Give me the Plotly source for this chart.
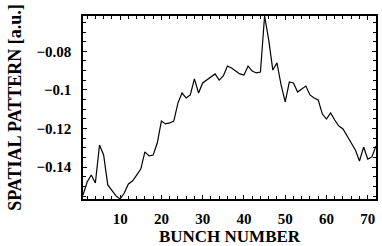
import plotly.graph_objects as go

bunch = list(range(1, 73))
pattern = [
    -0.1544, -0.1477, -0.1441, -0.1482, -0.1285, -0.1337, -0.1492, -0.1518, -0.1549, -0.1565,
    -0.1534, -0.1487, -0.1472, -0.1441, -0.1410, -0.1321, -0.1342, -0.1337, -0.1275, -0.1161,
    -0.1176, -0.1171, -0.1161, -0.1068, -0.1016, -0.1042, -0.1026, -0.0943, -0.1016, -0.0964,
    -0.0949, -0.0933, -0.0917, -0.0949, -0.0928, -0.0876, -0.0886, -0.0902, -0.0917, -0.0923,
    -0.0876, -0.0902, -0.0912, -0.0907, -0.0617, -0.0741, -0.0897, -0.0860, -0.0974, -0.1062,
    -0.0959, -0.0964, -0.1011, -0.0995, -0.0980, -0.1026, -0.1042, -0.1052, -0.1125, -0.1151,
    -0.1119, -0.1156, -0.1187, -0.1202, -0.1239, -0.1270, -0.1311, -0.1368, -0.1296, -0.1358,
    -0.1347, -0.1290,
]
x_ticks = [10, 20, 30, 40, 50, 60, 70]
y_ticks = [-0.08, -0.10, -0.12, -0.14]
y_ticktext = ["\u22120.08", "\u22120.1", "\u22120.12", "\u22120.14"]

font_family = "Liberation Serif"

fig = go.Figure()
fig.add_trace(go.Scatter(
    x=bunch, y=pattern, mode="lines",
    line=dict(color="black", width=1.2),
    hoverinfo="skip",
))

axis_common = dict(
    showline=True, linecolor="black", linewidth=1.5, mirror="allticks",
    ticks="inside", ticklen=4, tickwidth=1.2, tickcolor="black",
    showgrid=False, zeroline=False,
    tickfont=dict(family=font_family, size=15, color="black", weight="bold"),
)

fig.update_xaxes(
    range=[1, 72], tickvals=x_ticks,
    minor=dict(dtick=2, tick0=0, ticks="inside", ticklen=3, tickcolor="black", tickwidth=1),
    title=dict(text="<b>BUNCH NUMBER</b>", font=dict(family=font_family, size=17, color="black"),
               standoff=2),
    ticklabelstandoff=5,
    **axis_common,
)
fig.update_yaxes(
    range=[-0.1565, -0.0617], tickvals=y_ticks, ticktext=y_ticktext,
    minor=dict(dtick=0.005, tick0=0, ticks="inside", ticklen=3, tickcolor="black", tickwidth=1),
    title=dict(text="<b>SPATIAL PATTERN [a.u.]</b>", font=dict(family=font_family, size=18, color="black"),
               standoff=10),
    ticklabelstandoff=7,
    **axis_common,
)

fig.update_layout(
    width=382, height=246,
    margin=dict(l=83, r=4, t=16, b=47),
    paper_bgcolor="white", plot_bgcolor="white",
    showlegend=False,
)

fig.write_html(
    "out.html",
    config={"displayModeBar": False},
    post_script="document.body.style.margin='0';document.body.style.overflow='hidden';",
)
